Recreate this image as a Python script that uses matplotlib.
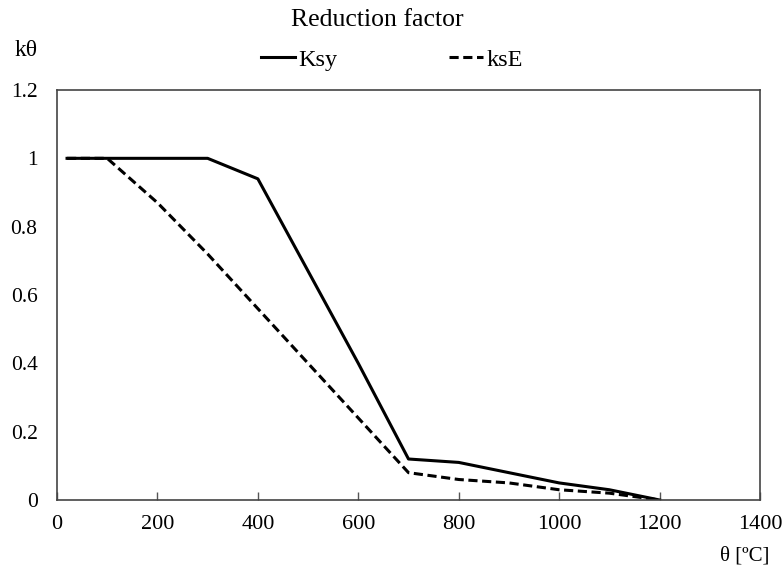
import matplotlib
matplotlib.use("Agg")
import matplotlib.pyplot as plt

temps = [20, 100, 200, 300, 400, 500, 600, 700, 800, 900, 1000, 1100, 1200]
ksy = [1.00, 1.00, 1.00, 1.00, 0.94, 0.67, 0.40, 0.12, 0.11, 0.08, 0.05, 0.03, 0.0]
kse = [1.00, 1.00, 0.87, 0.72, 0.56, 0.40, 0.24, 0.08, 0.06, 0.05, 0.03, 0.02, 0.0]
xticks = [0, 200, 400, 600, 800, 1000, 1200, 1400]
yticks = [0, 0.2, 0.4, 0.6, 0.8, 1, 1.2]
ytick_labels = ["0", "0.2", "0.4", "0.6", "0.8", "1", "1.2"]

plt.rcParams['font.family'] = ['Liberation Serif', 'DejaVu Serif']

fig = plt.figure(figsize=(7.84, 5.69), dpi=100)
ax = fig.add_axes([57/784, 1-500/569, 703/784, 410/569])

ax.plot(temps, ksy, color='black', lw=2.2, label='Ksy')
ax.plot(temps, kse, color='black', lw=2.2, ls=(0, (3, 1.5)), label='ksE')

ax.set_xlim(0, 1400)
ax.set_ylim(0, 1.2)
ax.set_xticks(xticks)
ax.set_xticklabels([str(t) for t in xticks], fontsize=16)
ax.set_yticks(yticks)
ax.set_yticklabels(ytick_labels, fontsize=15.5)
ax.tick_params(axis='x', direction='in', length=6, width=1, pad=11, color='#555555')
ax.tick_params(axis='y', length=0, pad=14)
for s in ax.spines.values():
    s.set_color('#444444')
    s.set_linewidth(1.2)

fig.text(377/784, 1-20/569, 'Reduction factor', ha='center', va='center', fontsize=18.5)
fig.text(26/784, 1-50/569, 'kθ', ha='center', va='center', fontsize=17)
fig.text(769/784, 1-556/569, 'θ [ºC]', ha='right', va='center', fontsize=15)

fig.legend(loc='center', bbox_to_anchor=(392/784, 1-60/569), ncol=2, frameon=False,
           fontsize=17.5, handlelength=1.4, handletextpad=0.15, columnspacing=4.6)

fig.savefig('out.png', dpi=100)
